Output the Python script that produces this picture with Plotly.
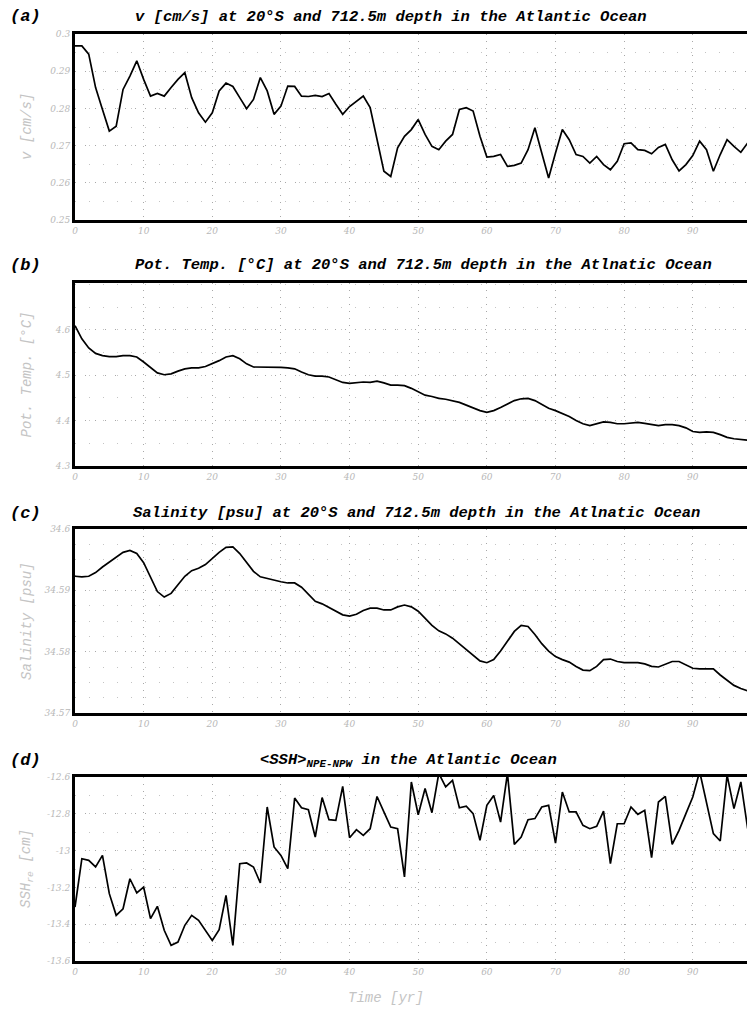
import plotly.graph_objects as go

years = list(range(0, 99))

v_cms = [0.2968, 0.2968, 0.2946, 0.2856, 0.2797, 0.2739, 0.2752, 0.2851, 0.2887, 0.2928,
         0.2878, 0.2833, 0.2840, 0.2833, 0.2856, 0.2878, 0.2896, 0.2829, 0.2788, 0.2763,
         0.2788, 0.2847, 0.2868, 0.2859, 0.2829, 0.2799, 0.2824, 0.2883, 0.2847, 0.2784,
         0.2806, 0.2860, 0.2859, 0.2833, 0.2832, 0.2835, 0.2832, 0.2840, 0.2811, 0.2784,
         0.2805, 0.2820, 0.2833, 0.2802, 0.2716, 0.2631, 0.2617, 0.2694, 0.2725, 0.2743,
         0.2770, 0.2730, 0.2698, 0.2689, 0.2712, 0.2730, 0.2797, 0.2802, 0.2793, 0.2725,
         0.2669, 0.2671, 0.2676, 0.2644, 0.2647, 0.2653, 0.2689, 0.2748, 0.2680, 0.2613,
         0.2680, 0.2743, 0.2716, 0.2676, 0.2671, 0.2653, 0.2671, 0.2649, 0.2635, 0.2658,
         0.2705, 0.2707, 0.2689, 0.2687, 0.2678, 0.2695, 0.2703, 0.2662, 0.2632, 0.2649,
         0.2673, 0.2712, 0.2689, 0.2631, 0.2676, 0.2716, 0.2698, 0.2682, 0.2707]

pot_temp = [4.609, 4.580, 4.560, 4.548, 4.543, 4.541, 4.541, 4.543, 4.543, 4.540,
            4.529, 4.516, 4.505, 4.501, 4.503, 4.509, 4.514, 4.516, 4.516, 4.519,
            4.525, 4.532, 4.540, 4.543, 4.536, 4.525, 4.518, 4.518, 4.518, 4.518,
            4.517, 4.516, 4.514, 4.507, 4.501, 4.498, 4.498, 4.496, 4.490, 4.484,
            4.482, 4.484, 4.485, 4.484, 4.487, 4.483, 4.478, 4.478, 4.477, 4.471,
            4.463, 4.456, 4.453, 4.449, 4.447, 4.444, 4.440, 4.434, 4.428, 4.422,
            4.418, 4.422, 4.429, 4.437, 4.444, 4.448, 4.449, 4.444, 4.435, 4.427,
            4.422, 4.416, 4.409, 4.400, 4.393, 4.389, 4.393, 4.397, 4.396, 4.393,
            4.393, 4.395, 4.396, 4.394, 4.391, 4.389, 4.391, 4.391, 4.389, 4.384,
            4.376, 4.374, 4.375, 4.374, 4.369, 4.363, 4.360, 4.358, 4.357]

salinity = [34.5923, 34.5922, 34.5923, 34.5929, 34.5938, 34.5946, 34.5954, 34.5962, 34.5965, 34.5960,
            34.5945, 34.5920, 34.5898, 34.5889, 34.5895, 34.5909, 34.5923, 34.5932, 34.5936, 34.5942,
            34.5952, 34.5962, 34.5970, 34.5971, 34.5960, 34.5945, 34.5931, 34.5922, 34.5919, 34.5917,
            34.5914, 34.5912, 34.5912, 34.5905, 34.5893, 34.5882, 34.5878, 34.5872, 34.5866, 34.5860,
            34.5858, 34.5861, 34.5867, 34.5871, 34.5871, 34.5868, 34.5868, 34.5873, 34.5876, 34.5873,
            34.5866, 34.5855, 34.5843, 34.5834, 34.5829, 34.5822, 34.5813, 34.5803, 34.5794, 34.5785,
            34.5782, 34.5787, 34.5801, 34.5817, 34.5833, 34.5843, 34.5841, 34.5828, 34.5813, 34.5801,
            34.5792, 34.5787, 34.5783, 34.5776, 34.5770, 34.5769, 34.5776, 34.5787, 34.5788, 34.5784,
            34.5782, 34.5782, 34.5782, 34.5780, 34.5776, 34.5775, 34.5779, 34.5784, 34.5784, 34.5779,
            34.5773, 34.5772, 34.5772, 34.5772, 34.5762, 34.5753, 34.5745, 34.5740, 34.5736]

ssh = [-13.307, -13.044, -13.053, -13.089, -13.026, -13.234, -13.352, -13.316, -13.153, -13.230,
       -13.198, -13.370, -13.303, -13.433, -13.515, -13.497, -13.406, -13.352, -13.379, -13.433,
       -13.488, -13.430, -13.243, -13.515, -13.071, -13.067, -13.089, -13.176, -12.763, -12.980,
       -13.026, -13.098, -12.714, -12.767, -12.778, -12.926, -12.712, -12.832, -12.836, -12.651,
       -12.930, -12.886, -12.917, -12.881, -12.706, -12.790, -12.872, -12.881, -13.143, -12.627,
       -12.805, -12.663, -12.794, -12.580, -12.654, -12.618, -12.767, -12.759, -12.799, -12.944,
       -12.754, -12.700, -12.845, -12.580, -12.966, -12.926, -12.832, -12.826, -12.763, -12.754,
       -12.959, -12.682, -12.790, -12.790, -12.863, -12.881, -12.868, -12.785, -13.071, -12.854,
       -12.854, -12.763, -12.803, -12.781, -13.038, -12.736, -12.705, -12.966, -12.890, -12.799,
       -12.709, -12.570, -12.745, -12.908, -12.948, -12.590, -12.772, -12.627, -12.881]

x_ticks = [0, 10, 20, 30, 40, 50, 60, 70, 80, 90]

panels = [
    dict(y=v_cms, label="(a)", title="v [cm/s] at 20°S and 712.5m depth in the Atlantic Ocean",
         ytitle="v [cm/s]", yrange=[0.25, 0.30], ticks=[0.25, 0.26, 0.27, 0.28, 0.29, 0.3],
         ticktext=["0.25", "0.26", "0.27", "0.28", "0.29", "0.3"], minor=0.005,
         top=34, bottom=220, title_y=17, title_x=391),
    dict(y=pot_temp, label="(b)", title="Pot. Temp. [°C] at 20°S and 712.5m depth in the Atlnatic Ocean",
         ytitle="Pot. Temp. [°C]", yrange=[4.3, 4.703], ticks=[4.3, 4.4, 4.5, 4.6],
         ticktext=["4.3", "4.4", "4.5", "4.6"], minor=0.05,
         top=283, bottom=466, title_y=265, title_x=423),
    dict(y=salinity, label="(c)", title="Salinity [psu] at 20°S and 712.5m depth in the Atlnatic Ocean",
         ytitle="Salinity [psu]", yrange=[34.57, 34.60], ticks=[34.57, 34.58, 34.59, 34.6],
         ticktext=["34.57", "34.58", "34.59", "34.6"], minor=0.0025,
         top=529, bottom=713, title_y=513, title_x=417),
    dict(y=ssh, label="(d)", title="<SSH><sub>NPE-NPW</sub> in the Atlantic Ocean",
         ytitle="SSH<sub>re</sub> [cm]", yrange=[-13.6, -12.6],
         ticks=[-13.6, -13.4, -13.2, -13.0, -12.8, -12.6],
         ticktext=["-13.6", "-13.4", "-13.2", "-13", "-12.8", "-12.6"], minor=0.1,
         top=777, bottom=961, title_y=760, title_x=408),
]

W, H = 747, 1011
fig = go.Figure()
layout = dict(width=W, height=H, margin=dict(l=0, r=0, t=0, b=0),
              paper_bgcolor="white", plot_bgcolor="white", showlegend=False)

title_font = dict(family="Liberation Mono", size=15.5, color="black", style="italic", weight="bold")
label_font = dict(family="Liberation Mono", size=17, color="black", style="italic", weight="bold")
tick_font = dict(family="DejaVu Serif", size=9, color="#b8b8b8", style="italic")
axis_title_font = dict(family="Liberation Mono", size=14, color="#c4c4c4", style="italic")

GRID = "#a8a8a8"
annotations = []
for i, p in enumerate(panels, start=1):
    xa = "x" if i == 1 else f"x{i}"
    ya = "y" if i == 1 else f"y{i}"
    fig.add_trace(go.Scatter(x=years, y=p["y"], mode="lines", xaxis=xa, yaxis=ya,
                             line=dict(color="black", width=1.7), cliponaxis=True))
    xkey = "xaxis" if i == 1 else f"xaxis{i}"
    ykey = "yaxis" if i == 1 else f"yaxis{i}"
    layout[xkey] = dict(domain=[75 / W, 1], range=[0, 97.9], anchor=ya,
                        tickvals=x_ticks, showline=True, mirror=True, linecolor="black",
                        linewidth=3, ticks="", tickfont=tick_font, showgrid=True,
                        gridcolor=GRID, griddash="1px,6px", gridwidth=1, zeroline=False,
                        automargin=False)
    layout[ykey] = dict(domain=[1 - p["bottom"] / H, 1 - p["top"] / H], range=p["yrange"],
                        anchor=xa, tickvals=p["ticks"], ticktext=p["ticktext"],
                        showline=True, mirror=False, linecolor="black", linewidth=3,
                        ticks="", tickfont=tick_font, showgrid=True, gridcolor=GRID,
                        griddash="1px,9px", gridwidth=1, zeroline=False, automargin=False,
                        minor=dict(dtick=p["minor"], showgrid=True, gridcolor="#c4c4c4",
                                   griddash="1px,13px", gridwidth=1, ticks=""))
    annotations.append(dict(text=p["title"], x=p["title_x"] / W, y=1 - p["title_y"] / H,
                            xref="paper", yref="paper", xanchor="center", yanchor="middle",
                            showarrow=False, font=title_font))
    annotations.append(dict(text=p["label"], x=8 / W, y=1 - p["title_y"] / H,
                            xref="paper", yref="paper", xanchor="left", yanchor="middle",
                            showarrow=False, font=label_font))
    annotations.append(dict(text=p["ytitle"], x=27 / W,
                            y=1 - (p["top"] + p["bottom"]) / 2 / H,
                            xref="paper", yref="paper", xanchor="center", yanchor="middle",
                            textangle=-90, showarrow=False, font=axis_title_font))

annotations.append(dict(text="Time [yr]", x=386 / W, y=1 - 998 / H, xref="paper", yref="paper",
                        xanchor="center", yanchor="middle", showarrow=False,
                        font=axis_title_font))
layout["annotations"] = annotations
fig.update_layout(**layout)
fig.write_html("out.html")
